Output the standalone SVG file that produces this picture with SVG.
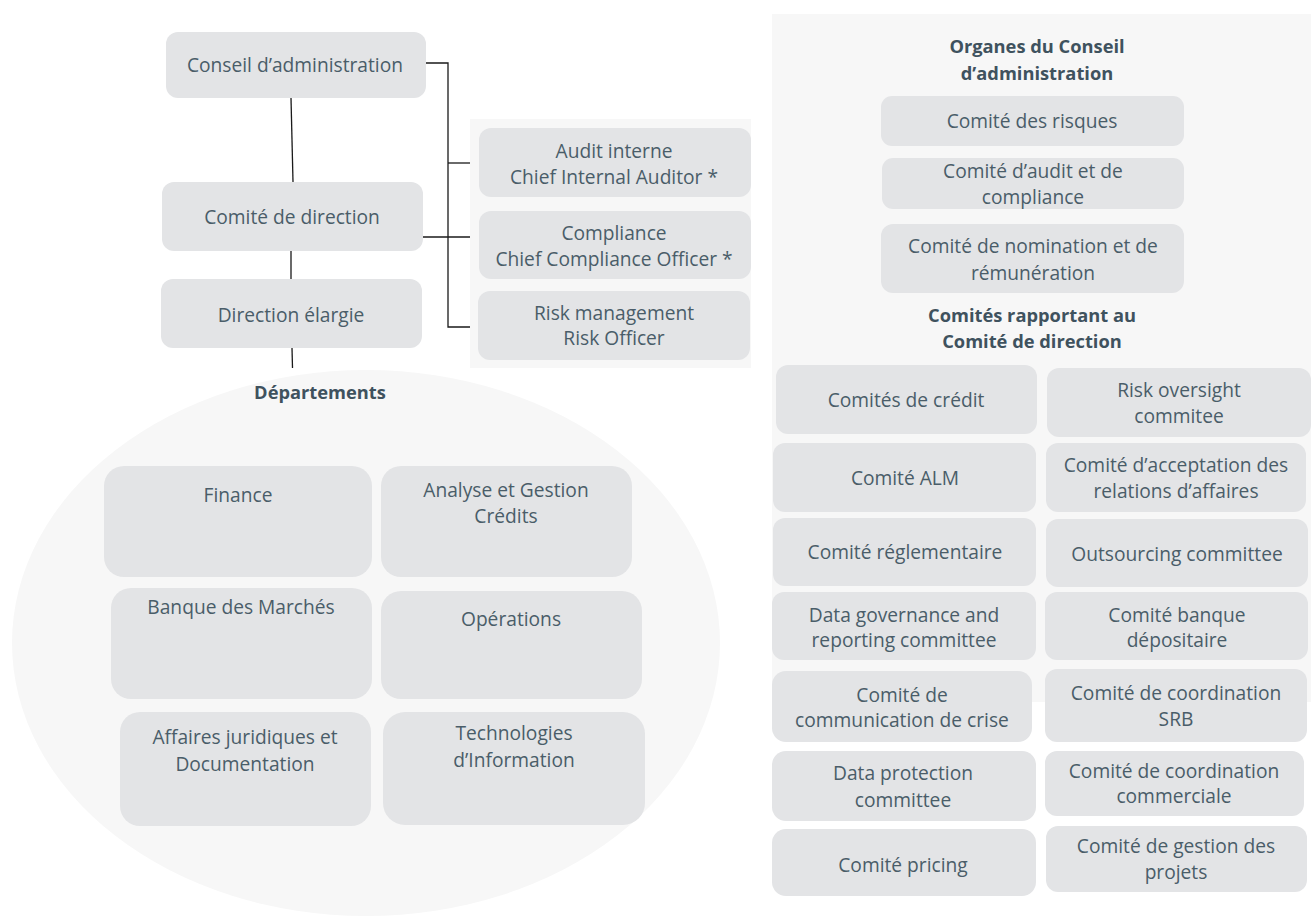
<svg xmlns="http://www.w3.org/2000/svg" width="1311" height="920" viewBox="0 0 1311 920">
<style>
.bg{fill:#f7f7f7}
.box{fill:#e3e4e6}
.t{font-family:"Open Sans","Noto Sans",sans-serif;font-size:19.2px;fill:#4a5d69;text-anchor:middle}
.h{font-family:"Open Sans","Noto Sans",sans-serif;font-size:18.3px;font-weight:bold;fill:#3f525e;text-anchor:middle}
.ln{stroke:#1a1a1a;stroke-width:1.3;fill:none}
</style>
<rect width="1311" height="920" fill="#ffffff"/>
<!-- backgrounds -->
<ellipse class="bg" cx="366" cy="643" rx="354" ry="273"/>
<rect class="bg" x="470" y="119" width="281" height="249"/>
<rect class="bg" x="772" y="14" width="539" height="688"/>

<g id="connectors">
<line class="ln" x1="291" y1="98" x2="293" y2="182"/>
<line class="ln" x1="291" y1="251" x2="291" y2="279"/>
<line class="ln" x1="292" y1="348" x2="292.5" y2="368"/>
<polyline class="ln" points="426,63 448,63 448,327 470,327"/>
<line class="ln" x1="448" y1="163" x2="470" y2="163"/>
<line class="ln" x1="423" y1="237" x2="470" y2="237"/>
</g>

<g id="conseil"><rect class="box" x="166" y="32" width="260" height="66" rx="12"/><text class="t" x="295" y="72">Conseil d’administration</text></g>
<g id="comite-direction"><rect class="box" x="162" y="182" width="261" height="69" rx="12"/><text class="t" x="292" y="224">Comité de direction</text></g>
<g id="direction-elargie"><rect class="box" x="161" y="279" width="261" height="69" rx="12"/><text class="t" x="291" y="322">Direction élargie</text></g>

<g id="audit"><rect class="box" x="479" y="128" width="272" height="69" rx="12"/><text class="t" x="614" y="158">Audit interne</text><text class="t" x="614" y="184">Chief Internal Auditor *</text></g>
<g id="compliance"><rect class="box" x="479" y="211" width="272" height="68" rx="12"/><text class="t" x="614" y="240">Compliance</text><text class="t" x="614" y="266">Chief Compliance Officer *</text></g>
<g id="risk"><rect class="box" x="478" y="291" width="272" height="69" rx="12"/><text class="t" x="614" y="320">Risk management</text><text class="t" x="614" y="345">Risk Officer</text></g>

<g id="departements">
<text class="h" x="320" y="399">Départements</text>
<g id="finance"><rect class="box" x="104" y="466" width="268" height="111" rx="20"/><text class="t" x="238" y="502">Finance</text></g>
<g id="analyse"><rect class="box" x="381" y="466" width="251" height="111" rx="20"/><text class="t" x="506" y="497">Analyse et Gestion</text><text class="t" x="506" y="523">Crédits</text></g>
<g id="banque-marches"><rect class="box" x="111" y="588" width="261" height="111" rx="20"/><text class="t" x="241" y="614">Banque des Marchés</text></g>
<g id="operations"><rect class="box" x="381" y="591" width="261" height="108" rx="20"/><text class="t" x="511" y="626">Opérations</text></g>
<g id="affaires"><rect class="box" x="120" y="712" width="251" height="114" rx="20"/><text class="t" x="245" y="744">Affaires juridiques et</text><text class="t" x="245" y="771">Documentation</text></g>
<g id="technologies"><rect class="box" x="383" y="712" width="262" height="113" rx="22"/><text class="t" x="514" y="740">Technologies</text><text class="t" x="514" y="767">d’Information</text></g>
</g>

<g id="organes">
<text class="h" x="1037" y="53">Organes du Conseil</text>
<text class="h" x="1037" y="80">d’administration</text>
<g id="comite-risques"><rect class="box" x="881" y="96" width="303" height="50" rx="11"/><text class="t" x="1032" y="128">Comité des risques</text></g>
<g id="comite-audit"><rect class="box" x="882" y="158" width="302" height="51" rx="11"/><text class="t" x="1033" y="178">Comité d’audit et de</text><text class="t" x="1033" y="204">compliance</text></g>
<g id="comite-nomination"><rect class="box" x="881" y="224" width="303" height="69" rx="12"/><text class="t" x="1033" y="253">Comité de nomination et de</text><text class="t" x="1033" y="280">rémunération</text></g>
</g>

<g id="rapportant">
<text class="h" x="1032" y="322">Comités rapportant au</text>
<text class="h" x="1032" y="348">Comité de direction</text>
<g id="c1"><rect class="box" x="776" y="365" width="261" height="69" rx="12"/><text class="t" x="906" y="407">Comités de crédit</text></g>
<g id="c2"><rect class="box" x="1047" y="368" width="264" height="69" rx="12"/><text class="t" x="1179" y="397">Risk oversight</text><text class="t" x="1179" y="423">commitee</text></g>
<g id="c3"><rect class="box" x="773" y="443" width="263" height="69" rx="12"/><text class="t" x="905" y="485">Comité ALM</text></g>
<g id="c4"><rect class="box" x="1046" y="443" width="260" height="69" rx="12"/><text class="t" x="1176" y="472">Comité d’acceptation des</text><text class="t" x="1176" y="498">relations d’affaires</text></g>
<g id="c5"><rect class="box" x="773" y="518" width="263" height="68" rx="12"/><text class="t" x="905" y="559">Comité réglementaire</text></g>
<g id="c6"><rect class="box" x="1046" y="519" width="262" height="68" rx="12"/><text class="t" x="1177" y="561">Outsourcing committee</text></g>
<g id="c7"><rect class="box" x="772" y="592" width="264" height="68" rx="12"/><text class="t" x="904" y="622">Data governance and</text><text class="t" x="904" y="647">reporting committee</text></g>
<g id="c8"><rect class="box" x="1045" y="592" width="263" height="68" rx="12"/><text class="t" x="1177" y="622">Comité banque</text><text class="t" x="1177" y="647">dépositaire</text></g>
<g id="c9"><rect class="box" x="772" y="671" width="260" height="71" rx="14"/><text class="t" x="902" y="702">Comité de</text><text class="t" x="902" y="727">communication de crise</text></g>
<g id="c10"><rect class="box" x="1045" y="669" width="262" height="73" rx="12"/><text class="t" x="1176" y="700">Comité de coordination</text><text class="t" x="1176" y="726">SRB</text></g>
<g id="c11"><rect class="box" x="772" y="751" width="264" height="70" rx="14"/><text class="t" x="903" y="780">Data protection</text><text class="t" x="903" y="807">committee</text></g>
<g id="c12"><rect class="box" x="1045" y="751" width="259" height="65" rx="12"/><text class="t" x="1174" y="778">Comité de coordination</text><text class="t" x="1174" y="803">commerciale</text></g>
<g id="c13"><rect class="box" x="772" y="829" width="264" height="67" rx="14"/><text class="t" x="903" y="872">Comité pricing</text></g>
<g id="c14"><rect class="box" x="1046" y="826" width="261" height="66" rx="12"/><text class="t" x="1176" y="853">Comité de gestion des</text><text class="t" x="1176" y="879">projets</text></g>
</g>
</svg>
